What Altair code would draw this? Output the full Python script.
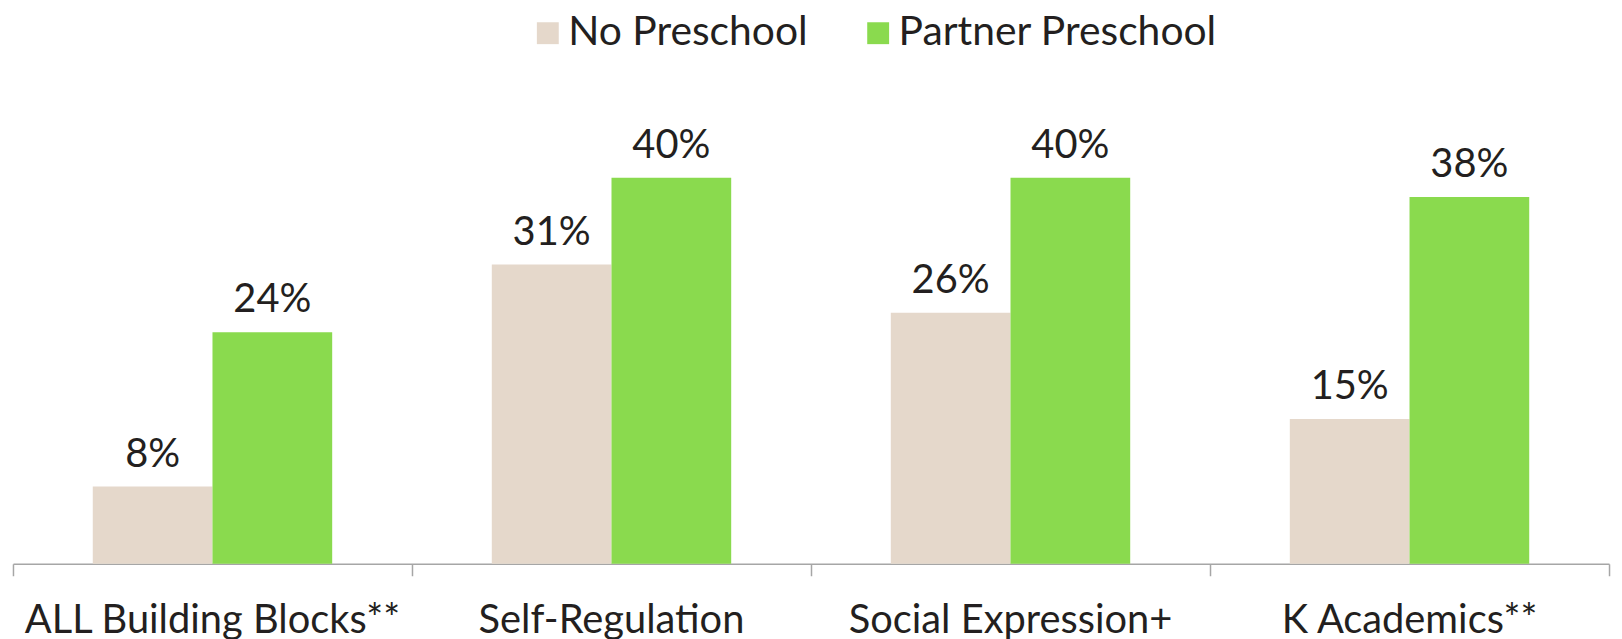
import altair as alt
import pandas as pd

categories = ["ALL Building Blocks**", "Self-Regulation", "Social Expression+", "K Academics**"]
groups = ["No Preschool", "Partner Preschool"]
no_preschool = [8, 31, 26, 15]
partner_preschool = [24, 40, 40, 38]
colors = ["#E5D8CB", "#8ADA4E"]
tick_positions = [0, 1, 2, 3, 4]

rows = []
for c, a, b in zip(categories, no_preschool, partner_preschool):
    rows.append({"category": c, "group": groups[0], "value": a, "label": f"{a}%"})
    rows.append({"category": c, "group": groups[1], "value": b, "label": f"{b}%"})
df = pd.DataFrame(rows)
ticks_df = pd.DataFrame({"pos": tick_positions})

FONT = "Lato"
TXT = "#231F20"
xscale = alt.Scale(paddingInner=0.4, paddingOuter=0.2)

x_enc = alt.X(
    "category:N",
    sort=categories,
    scale=xscale,
    axis=alt.Axis(
        title=None, labelAngle=0, ticks=False, domain=False,
        labelFontSize=40, labelFont=FONT, labelColor=TXT, labelPadding=37,
        labelLimit=700,
    ),
)
xo = alt.XOffset("group:N", sort=groups)
y_enc = alt.Y("value:Q", scale=alt.Scale(domain=[0, 50]), axis=None)

bars = alt.Chart(df).mark_bar().encode(
    x=x_enc,
    xOffset=xo,
    y=y_enc,
    color=alt.Color(
        "group:N", sort=groups,
        scale=alt.Scale(domain=groups, range=colors),
        legend=alt.Legend(
            title=None, orient="none", direction="horizontal",
            legendX=517, legendY=-69,
            symbolType="square", symbolSize=484, symbolStrokeWidth=0,
            labelFont=FONT, labelFontSize=41, labelColor=TXT,
            labelOffset=0, columnPadding=50, labelLimit=500,
        ),
    ),
)

text = alt.Chart(df).mark_text(
    baseline="alphabetic", dy=-20, font=FONT, fontSize=40, color=TXT
).encode(
    x=alt.X("category:N", sort=categories, scale=xscale, axis=None),
    xOffset=xo, y=y_enc, text="label:N",
)

tick_layer = alt.Chart(ticks_df).mark_point(opacity=0).encode(
    x=alt.X(
        "pos:Q",
        scale=alt.Scale(domain=[0, 4], nice=False, zero=False),
        axis=alt.Axis(
            values=tick_positions, labels=False, title=None, grid=False,
            tickSize=12, tickColor="#A6A6A6", domainColor="#A6A6A6",
            domainWidth=1.5, tickWidth=1.5, orient="bottom",
        ),
    ),
    y=alt.value(0),
)

chart = (
    alt.layer(bars, text, tick_layer)
    .resolve_scale(x="independent")
    .properties(
        width=1604, height=485,
        autosize=alt.AutoSizeParams(type="none"),
        padding={"left": 5, "top": 72, "right": 5, "bottom": 76},
    )
    .configure_view(stroke=None)
)

chart.save("out.html", embed_options={"renderer": "svg", "actions": False})
